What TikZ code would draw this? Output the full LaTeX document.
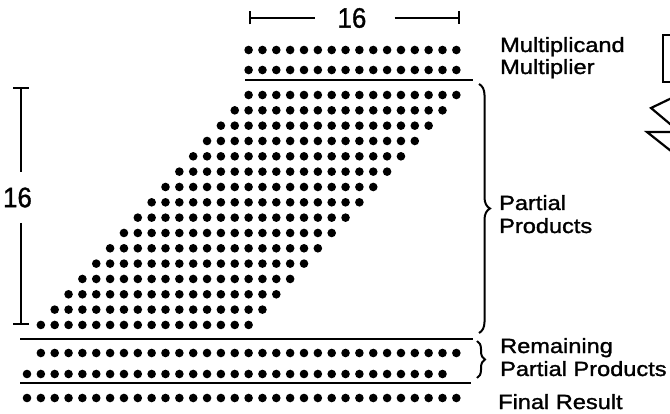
\documentclass[tikz,border=0pt]{standalone}
\usepackage{fontspec}
\setmainfont{Liberation Sans}[FakeStretch=1.15,FakeBold=1.4]
\usetikzlibrary{decorations.pathreplacing,arrows.meta}

\begin{document}
\begin{tikzpicture}[x=1pt,y=-1pt,
  dot/.style={fill=black},
  rule/.style={line width=2.6pt},
  dim/.style={line width=2.2pt},
  brc/.style={line width=2pt,decorate,decoration={brace,amplitude=#1}},
  lbl/.style={anchor=base west,inner sep=0pt,font=\fontsize{20.5}{22}\selectfont},
  bigno/.style={inner sep=0pt,font=\fontsize{28}{28}\selectfont}]
\useasboundingbox (0,0) rectangle (670,414);

% column grid for the bit positions
\def\colx#1{27+13.85*#1}
\def\dotr{4.3pt}

% operands
\foreach \c in {16,...,31} {
  \fill[dot] ({\colx{\c}},50) circle (\dotr);
  \fill[dot] ({\colx{\c}},70) circle (\dotr);
}
\draw[rule] (245,80) -- (473,80);

% partial products, each row shifted one column left
\foreach \k in {0,...,15} {
  \foreach \j in {0,...,15} {
    \pgfmathtruncatemacro\c{16-\k+\j}
    \fill[dot] ({\colx{\c}},{95+15.33*\k}) circle (\dotr);
  }
}
\draw[rule] (20,339) -- (473,339);

% remaining partial products
\foreach \c in {1,...,31} \fill[dot] ({\colx{\c}},353) circle (\dotr);
\foreach \c in {0,...,30} \fill[dot] ({\colx{\c}},374) circle (\dotr);
\draw[rule] (20,383) -- (471,383);

% final result
\foreach \c in {0,...,31} \fill[dot] ({\colx{\c}},398) circle (\dotr);

% width dimension
\node[bigno] (wlab) at (352,18) {\scalebox{0.8}[1]{16}};
\coordinate (wl) at (249,18);
\coordinate (wr) at (460,18);
\draw[dim,{Bar[width=13pt]}-] (wl) -- ([xshift=-22pt]wlab.west);
\draw[dim,-{Bar[width=13pt]}] ([xshift=28pt]wlab.east) -- (wr);

% height dimension
\node[bigno] (hlab) at (17.5,197.5) {\scalebox{0.8}[1]{16}};
\coordinate (ht) at (21,87);
\coordinate (hb) at (21,325);
\draw[dim,{Bar[width=16pt]}-] (ht) -- (21,172);
\draw[dim,-{Bar[width=16pt]}] (21,223) -- (hb);

% braces
\coordinate (ppt) at (479,84);
\coordinate (ppb) at (479,333);
\draw[brc=11pt] (ppt) -- (ppb);
\coordinate (rpt) at (477,341);
\coordinate (rpb) at (477,378);
\draw[brc=8pt] (rpt) -- (rpb);

% labels
\node[lbl] (mcand) at (500,52) {Multiplicand};
\node[lbl] (mplier) at (500,74) {Multiplier};
\node[lbl] (pp1) at (499,210) {Partial};
\node[lbl] (pp2) at (499,233) {Products};
\node[lbl] (rem1) at (500,353) {Remaining};
\node[lbl] (rem2) at (500,376) {Partial Products};
\node[lbl] (final) at (498,409) {Final Result};

% downward arrow at the edge
\draw[dim] (676,35) -- (663,35) -- (663,82) -- (676,82);
\draw[dim] (676,96) -- (651,108) -- (676,129);
\draw[dim] (676,132) -- (647,132) -- (676,155);
\end{tikzpicture}
\end{document}
